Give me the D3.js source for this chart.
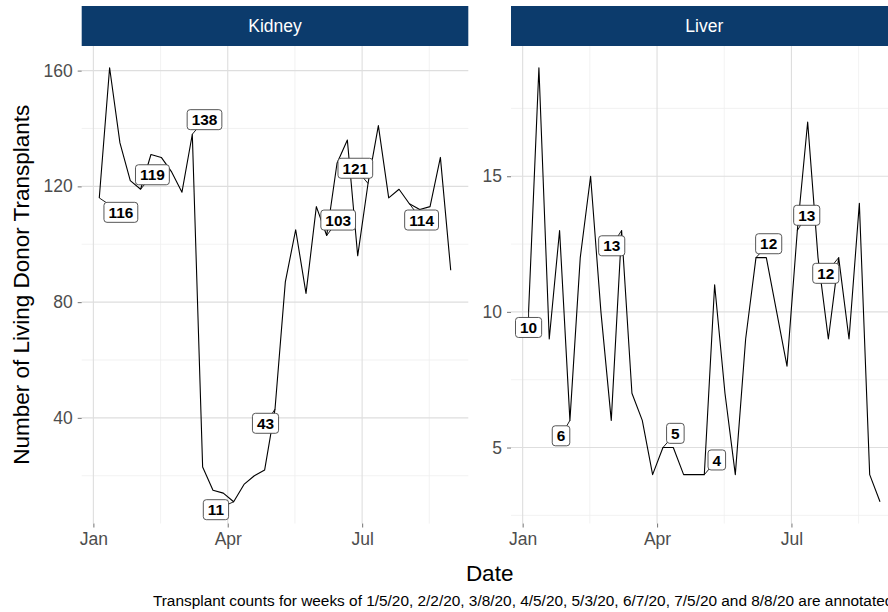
<!DOCTYPE html>
<html>
<head>
<meta charset="utf-8">
<script src="https://cdn.jsdelivr.net/npm/d3@7"></script>
<style>
  body { margin: 0; background: #fff; }
  svg { display: block; font-family: "Liberation Sans", Arial, Helvetica, sans-serif; }
</style>
</head>
<body>
<svg id="chart" width="888" height="612"></svg>
<script>
// Weekly living donor transplant counts, 2020
const weeks = [
  "2020-01-05","2020-01-12","2020-01-19","2020-01-26","2020-02-02","2020-02-09","2020-02-16",
  "2020-02-23","2020-03-01","2020-03-08","2020-03-15","2020-03-22","2020-03-29","2020-04-05",
  "2020-04-12","2020-04-19","2020-04-26","2020-05-03","2020-05-10","2020-05-17","2020-05-24",
  "2020-05-31","2020-06-07","2020-06-14","2020-06-21","2020-06-28","2020-07-05","2020-07-12",
  "2020-07-19","2020-07-26","2020-08-02","2020-08-09","2020-08-16","2020-08-23","2020-08-30"
];
const kidney = [
  116, 161, 135, 122, 119, 131, 130,
  125, 118, 138, 23, 15, 14, 11,
  17, 20, 22, 43, 87, 105, 83,
  113, 103, 128, 136, 96, 121, 141,
  116, 119, 114, 112, 113, 130, 91
];
const liver = [
  10, 19, 9, 13, 6, 12, 15,
  10, 6, 13, 7, 6, 4, 5,
  5, 4, 4, 4, 11, 7, 4,
  9, 12, 12, 10, 8, 13, 17,
  12, 9, 12, 9, 14, 4, 3
];
const organs = ["Kidney", "Liver"];
const annotatedWeeks = ["2020-01-05","2020-02-02","2020-03-08","2020-04-05","2020-05-03","2020-06-07","2020-07-05","2020-08-02"];
const dateTicks = ["2020-01-01","2020-04-01","2020-07-01"];
const kidneyTicks = [40, 80, 120, 160];
const liverTicks = [5, 10, 15];
const xTitle = "Date";
const yTitle = "Number of Living Donor Transplants";
const caption = "Transplant counts for weeks of 1/5/20, 2/2/20, 3/8/20, 4/5/20, 5/3/20, 6/7/20, 7/5/20 and 8/8/20 are annotated.";

// ---- layout ----
const W = 888, H = 612;
const panelTop = 46, panelBottom = 523.5;
const stripTop = 6;
const panels = [
  { name: organs[0], values: kidney, ticks: kidneyTicks, x0: 81.7, x1: 468.3,
    // label nudges (px) from the point to the label centre
    nudges: [[21.6,14.4],[11.8,-14.5],[12.2,-14.6],[-17.7,7.9],[-9.5,14.1],[11.5,-15.5],[-12.7,-15.2],[12.2,16.3]] },
  { name: organs[1], values: liver, ticks: liverTicks, x0: 511, x1: 897.6,
    nudges: [[0,15.6],[-8.9,15.4],[-9.9,15.3],[12.4,-14.2],[12.5,-14.7],[12.7,-13.9],[9.4,-15.2],[-12.9,15.7]] }
];

const parse = d3.utcParse("%Y-%m-%d");
const dates = weeks.map(parse);
const tickDates = dateTicks.map(parse);

function expand(ext, f = 0.05) {
  const pad = (ext[1] - ext[0]) * f;
  return [ext[0] - pad, ext[1] + pad];
}
function minors(ticks, dom) {
  const step = ticks[1] - ticks[0];
  const out = [];
  const all = [ticks[0] - step, ...ticks, ticks[ticks.length - 1] + step];
  for (let i = 0; i < all.length - 1; i++) {
    const m = (all[i] + all[i + 1]) / 2;
    if (m >= dom[0] && m <= dom[1]) out.push(m);
  }
  return out;
}

const svg = d3.select("#chart");
svg.append("rect").attr("width", W).attr("height", H).attr("fill", "#fff");

const dateExt = expand(d3.extent(dates, d => +d));

panels.forEach(p => {
  const x = d3.scaleUtc().domain(dateExt.map(v => new Date(v))).range([p.x0, p.x1]);
  const yDom = expand(d3.extent(p.values));
  const y = d3.scaleLinear().domain(yDom).range([panelBottom, panelTop]);

  const g = svg.append("g");

  // minor grid
  const tickMs = tickDates.map(d => +d);
  const xMinor = minors(tickMs, dateExt);
  g.selectAll(".xminor").data(xMinor).join("line")
    .attr("x1", d => x(new Date(d))).attr("x2", d => x(new Date(d)))
    .attr("y1", panelTop).attr("y2", panelBottom)
    .attr("stroke", "#efefef").attr("stroke-width", 0.8);
  g.selectAll(".yminor").data(minors(p.ticks, yDom)).join("line")
    .attr("x1", p.x0).attr("x2", p.x1)
    .attr("y1", d => y(d)).attr("y2", d => y(d))
    .attr("stroke", "#efefef").attr("stroke-width", 0.8);

  // major grid
  g.selectAll(".xmajor").data(tickDates).join("line")
    .attr("x1", d => x(d)).attr("x2", d => x(d))
    .attr("y1", panelTop).attr("y2", panelBottom)
    .attr("stroke", "#dedede").attr("stroke-width", 1.1);
  g.selectAll(".ymajor").data(p.ticks).join("line")
    .attr("x1", p.x0).attr("x2", p.x1)
    .attr("y1", d => y(d)).attr("y2", d => y(d))
    .attr("stroke", "#dedede").attr("stroke-width", 1.1);

  // strip
  g.append("rect").attr("x", p.x0).attr("y", stripTop)
    .attr("width", p.x1 - p.x0).attr("height", panelTop - stripTop)
    .attr("fill", "#0c3b6c");
  g.append("text").attr("x", (p.x0 + p.x1) / 2).attr("y", (stripTop + panelTop) / 2)
    .attr("dy", "0.35em").attr("text-anchor", "middle")
    .attr("fill", "#fff").attr("font-size", 17.5).text(p.name);

  // series line
  const pts = dates.map((d, i) => [d, p.values[i]]);
  g.append("path").datum(pts)
    .attr("fill", "none").attr("stroke", "#000").attr("stroke-width", 1.1)
    .attr("stroke-linejoin", "round")
    .attr("d", d3.line().x(d => x(d[0])).y(d => y(d[1])));

  // axes
  const xAxis = g.append("g").attr("transform", `translate(0,${panelBottom})`)
    .call(d3.axisBottom(x).tickValues(tickDates).tickFormat(d3.utcFormat("%b")).tickSize(4).tickPadding(5));
  const yAxis = g.append("g").attr("transform", `translate(${p.x0},0)`)
    .call(d3.axisLeft(y).tickValues(p.ticks).tickFormat(d3.format("d")).tickSize(4).tickPadding(5));
  [xAxis, yAxis].forEach(a => {
    a.select(".domain").remove();
    a.selectAll(".tick line").attr("stroke", "#7f7f7f").attr("stroke-width", 1.1);
    a.selectAll(".tick text").attr("fill", "#4d4d4d").attr("font-size", 17.5)
      .attr("font-family", "Liberation Sans, Arial, sans-serif");
  });

  // annotations
  const ann = annotatedWeeks.map((w, k) => {
    const i = weeks.indexOf(w);
    const px = x(dates[i]), py = y(p.values[i]);
    return { v: p.values[i], px, py, cx: px + p.nudges[k][0], cy: py + p.nudges[k][1] };
  });
  g.selectAll(".seg").data(ann).join("line")
    .attr("x1", d => d.px).attr("y1", d => d.py)
    .attr("x2", d => d.cx).attr("y2", d => d.cy)
    .attr("stroke", "#000").attr("stroke-width", 0.9);
  const lab = g.selectAll(".lab").data(ann).join("g")
    .attr("transform", d => `translate(${d.cx},${d.cy})`);
  const rects = lab.append("rect");
  const texts = lab.append("text").attr("text-anchor", "middle").attr("dy", "0.36em")
    .attr("font-weight", "bold").attr("font-size", 15.4).attr("fill", "#000")
    .text(d => d.v);
  texts.each(function (d) { d.tw = this.getComputedTextLength(); });
  rects.attr("x", d => -(d.tw + 9) / 2).attr("y", -10)
    .attr("width", d => d.tw + 9).attr("height", 20)
    .attr("rx", 3).attr("fill", "#fff").attr("stroke", "#444").attr("stroke-width", 0.9);
});

// titles
svg.append("text").attr("x", (81.7 + 897.6) / 2).attr("y", 581)
  .attr("text-anchor", "middle").attr("font-size", 22.5).attr("fill", "#000").text(xTitle);
svg.append("text")
  .attr("transform", `translate(29,${(panelTop + panelBottom) / 2}) rotate(-90)`)
  .attr("text-anchor", "middle").attr("font-size", 22.5).attr("fill", "#000").text(yTitle);
svg.append("text").attr("x", 897.6).attr("y", 606)
  .attr("text-anchor", "end").attr("font-size", 15.4).attr("fill", "#000").text(caption);
</script>
</body>
</html>
